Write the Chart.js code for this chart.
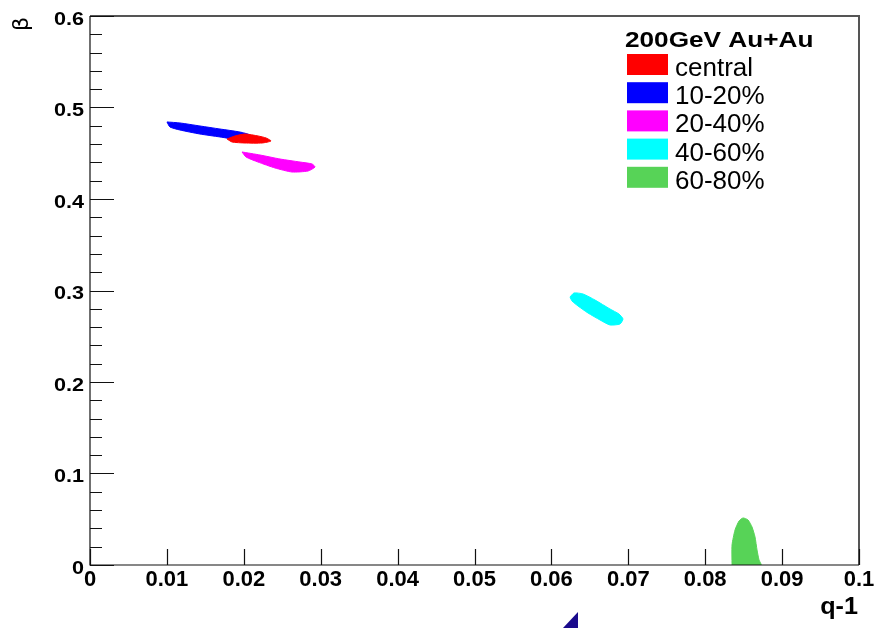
<!DOCTYPE html>
<html>
<head>
<meta charset="utf-8">
<script src="https://cdn.jsdelivr.net/npm/chart.js@4"></script>
<style>
  html, body { margin: 0; padding: 0; background: #fff; }
  #wrap { width: 875px; height: 628px; }
</style>
</head>
<body>
<div id="wrap"><canvas id="c" width="875" height="628"></canvas></div>
<script>
// contour outlines, q-1 (x) and beta (y)
const labels = ['central', '10-20%', '20-40%', '40-60%', '60-80%'];
const colors = ['#ff0000', '#0000ff', '#ff00ff', '#00ffff', '#57d357'];

const centralQ = [0.01782, 0.01886, 0.02016, 0.02185, 0.02289, 0.02354, 0.02237, 0.02016, 0.01847, 0.01782];
const centralB = [0.4656, 0.4689, 0.4710, 0.4689, 0.4667, 0.4634, 0.4612, 0.4612, 0.4623, 0.4656];

const c1020Q = [0.01001, 0.0117, 0.0143, 0.0169, 0.0195, 0.0208, 0.02055, 0.0195, 0.0169, 0.0143, 0.0117, 0.0104, 0.01001];
const c1020B = [0.4842, 0.4831, 0.4798, 0.4765, 0.4732, 0.4699, 0.4656, 0.4645, 0.4678, 0.4710, 0.4754, 0.4787, 0.4842];

const c2040Q = [0.01977, 0.0221, 0.02471, 0.02731, 0.02887, 0.02926, 0.02835, 0.02627, 0.02406, 0.02185, 0.02029, 0.01977];
const c2040B = [0.4514, 0.4481, 0.4437, 0.4404, 0.4383, 0.4350, 0.4306, 0.4295, 0.4339, 0.4404, 0.4459, 0.4514];

const c4060Q = [0.06242, 0.06294, 0.06411, 0.06567, 0.06762, 0.06879, 0.06931, 0.06892, 0.06762, 0.06632, 0.06476, 0.06346, 0.06268, 0.06242];
const c4060B = [0.2929, 0.2973, 0.2962, 0.2896, 0.2798, 0.2743, 0.2689, 0.2634, 0.2623, 0.2678, 0.2754, 0.2831, 0.2885, 0.2929];

const c6080Q = [0.08349, 0.08349, 0.08388, 0.0844, 0.08492, 0.08557, 0.08609, 0.08648, 0.08674, 0.0870, 0.08726, 0.08349];
const c6080B = [0, 0.0219, 0.0383, 0.0481, 0.0514, 0.0492, 0.0415, 0.0306, 0.0164, 0.0055, 0, 0];

const xTicks = [0, 0.01, 0.02, 0.03, 0.04, 0.05, 0.06, 0.07, 0.08, 0.09, 0.1];
const xTickLabels = ['0', '0.01', '0.02', '0.03', '0.04', '0.05', '0.06', '0.07', '0.08', '0.09', '0.1'];
const yTicks = [0, 0.1, 0.2, 0.3, 0.4, 0.5, 0.6];
const yTickLabels = ['0', '0.1', '0.2', '0.3', '0.4', '0.5', '0.6'];

const legendTitle = '200GeV Au+Au';
const xTitle = 'q-1';
const yTitle = '\u03b2';

function pts(xs, ys) {
  return xs.map((x, i) => ({ x: x, y: ys[i] }));
}
const shapes = [
  pts(centralQ, centralB),
  pts(c1020Q, c1020B),
  pts(c2040Q, c2040B),
  pts(c4060Q, c4060B),
  pts(c6080Q, c6080B)
];

// text squeezed/stretched horizontally like the ROOT output
function drawText(ctx, txt, x, y, font, hscale, align, baseline) {
  ctx.save();
  ctx.font = font;
  ctx.textAlign = align;
  ctx.textBaseline = baseline;
  ctx.translate(x, y);
  ctx.scale(hscale, 1);
  ctx.fillStyle = '#000';
  ctx.fillText(txt, 0, 0);
  ctx.restore();
}

const rootFrame = {
  id: 'rootFrame',
  afterDraw(chart) {
    const ctx = chart.ctx;
    const a = chart.chartArea;
    const xs = chart.scales.x, ys = chart.scales.y;
    ctx.save();

    // frame: gray top/right, black left/bottom
    ctx.strokeStyle = '#555';
    ctx.lineWidth = 2;
    ctx.beginPath();
    ctx.moveTo(a.left, a.top);
    ctx.lineTo(a.right, a.top);
    ctx.lineTo(a.right, a.bottom);
    ctx.stroke();
    ctx.strokeStyle = '#111';
    ctx.lineWidth = 1.2;
    ctx.beginPath();
    ctx.moveTo(a.left, a.top);
    ctx.lineTo(a.left, a.bottom);
    ctx.lineTo(a.right, a.bottom);
    ctx.stroke();

    // y ticks: major every 0.1, minor every 0.02
    ctx.lineWidth = 1.2;
    ctx.beginPath();
    for (let i = 0; i <= 30; i++) {
      const py = Math.round(ys.getPixelForValue(i * 0.02)) + 0.5;
      const len = (i % 5 === 0) ? 24 : 12;
      ctx.moveTo(a.left, py);
      ctx.lineTo(a.left + len, py);
    }
    // x ticks
    xTicks.forEach(v => {
      const px = Math.round(xs.getPixelForValue(v)) + 0.5;
      ctx.moveTo(px, a.bottom);
      ctx.lineTo(px, a.bottom - 16);
    });
    ctx.stroke();

    // tick labels
    yTicks.forEach((v, i) => {
      const py = ys.getPixelForValue(v);
      drawText(ctx, yTickLabels[i], 84, py + 4, 'bold 18px "Liberation Sans", Arial', 1.2, 'right', 'middle');
    });
    xTicks.forEach((v, i) => {
      const px = xs.getPixelForValue(v);
      drawText(ctx, xTickLabels[i], px, 580, 'bold 22px "Liberation Sans", Arial', 1, 'center', 'middle');
    });

    // axis titles
    drawText(ctx, xTitle, 858, 614, 'bold 24px "Liberation Sans", Arial', 1.05, 'right', 'alphabetic');
    ctx.save();
    ctx.translate(22, 24);
    ctx.rotate(-Math.PI / 2);
    drawText(ctx, yTitle, 0, 0, '22px "DejaVu Sans", "Liberation Sans"', 1, 'center', 'middle');
    ctx.restore();

    // legend
    drawText(ctx, legendTitle, 625, 47, 'bold 22px "Liberation Sans", Arial', 1.19, 'left', 'alphabetic');
    labels.forEach((lab, i) => {
      const top = 54 + 28.2 * i;
      ctx.fillStyle = colors[i];
      ctx.fillRect(627, top, 41, 21);
      drawText(ctx, lab, 675, top + 22, '26px "Liberation Sans", Arial', 1, 'left', 'alphabetic');
    });

    // small stray marker at the bottom edge
    ctx.fillStyle = '#1a0a8c';
    ctx.beginPath();
    ctx.moveTo(563, 628);
    ctx.lineTo(578, 612);
    ctx.lineTo(578, 628);
    ctx.closePath();
    ctx.fill();

    ctx.restore();
  }
};

new Chart(document.getElementById('c'), {
  type: 'scatter',
  data: {
    datasets: shapes.map((d, i) => ({
      label: labels[i],
      data: d,
      showLine: true,
      fill: 'shape',
      tension: 0.2,
      backgroundColor: colors[i],
      borderColor: colors[i],
      borderWidth: 1,
      pointRadius: 0
    }))
  },
  options: {
    responsive: false,
    animation: false,
    layout: { padding: { left: 0, right: 16, top: 16, bottom: 0 } },
    plugins: { legend: { display: false }, tooltip: { enabled: false } },
    scales: {
      x: {
        type: 'linear', min: 0, max: 0.1,
        ticks: { display: false },
        grid: { display: false },
        border: { display: false },
        afterFit(s) { s.height = 63; }
      },
      y: {
        type: 'linear', min: 0, max: 0.6,
        ticks: { display: false },
        grid: { display: false },
        border: { display: false },
        afterFit(s) { s.width = 90; }
      }
    }
  },
  plugins: [rootFrame]
});
</script>
</body>
</html>
